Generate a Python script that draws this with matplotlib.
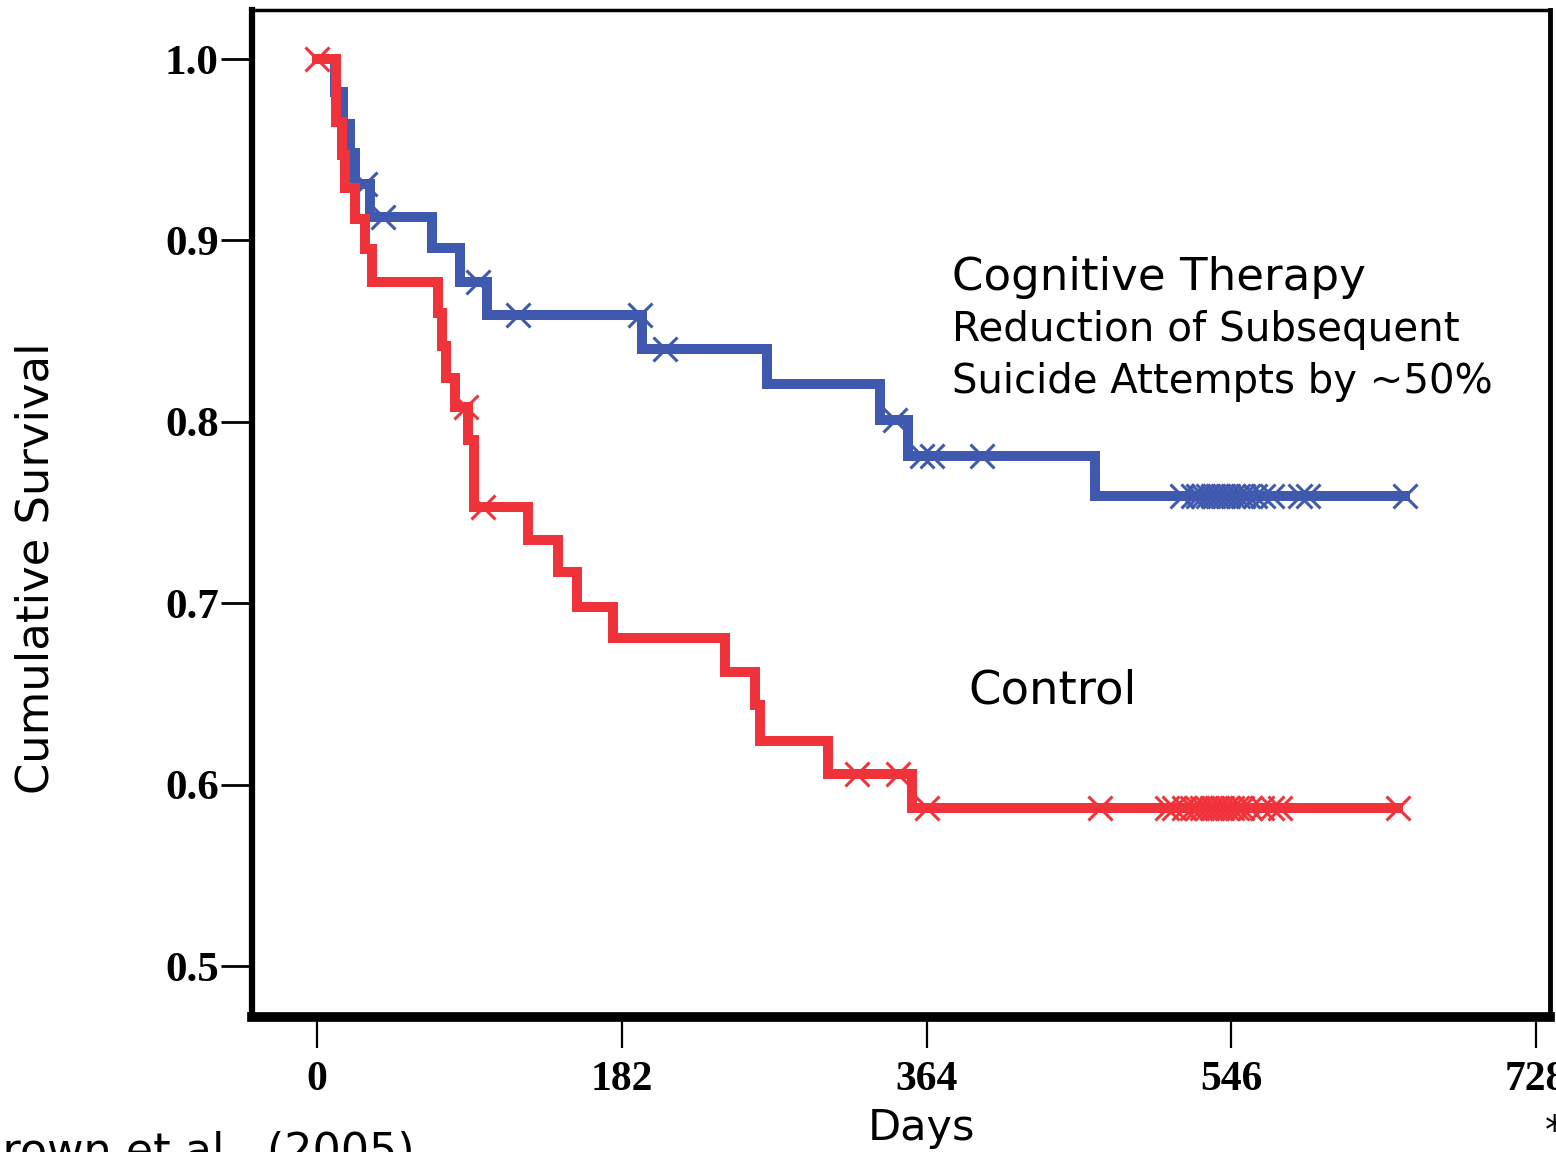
import matplotlib
matplotlib.use("Agg")
import matplotlib.pyplot as plt
from matplotlib.font_manager import FontProperties

# Kaplan-Meier style curves (days, survival after the drop)
ct_event_days = [11, 15.5, 19.7, 22.7, 31.7, 68.7, 85.4, 101.5, 194.1, 268.7, 336.2, 352.9, 464.6]
ct_event_surv = [0.982, 0.964, 0.948, 0.931, 0.913, 0.896, 0.877, 0.859, 0.840, 0.821, 0.801, 0.781, 0.759]
ct_end_day = 649.7

ct_cens_days = [28.7, 39.4, 96.1, 120.0, 192.9, 207.8, 345.2, 361.3, 367.3, 397.1,
                516.6, 523.1, 526, 529, 532, 535, 538, 541, 544, 547, 550, 553, 556,
                560, 565, 570.3, 587, 591.8, 649.7]
ct_cens_surv = [0.931, 0.913, 0.877, 0.859, 0.859, 0.840, 0.801, 0.781, 0.781, 0.781] + [0.759] * 19

ctl_event_days = [11.3, 14.9, 16.7, 22.7, 28.7, 32.8, 72.3, 74.5, 77.0, 82.4, 90.0, 93.8,
                  126.0, 143.9, 155.3, 176.8, 243.7, 261.6, 264.6, 305.2, 355.3]
ctl_event_surv = [0.965, 0.947, 0.929, 0.912, 0.895, 0.877, 0.860, 0.842, 0.824, 0.808, 0.790, 0.753,
                  0.735, 0.717, 0.698, 0.681, 0.662, 0.644, 0.624, 0.606, 0.587]
ctl_end_day = 645.6

ctl_cens_days = [0, 89.0, 99.1, 322.5, 347.0, 364.3,
                 467.6, 507.6, 512, 518, 522.5, 525.5, 528.5, 531.5, 534.5, 537.5, 540.5,
                 543.5, 546.4, 549.4, 552.4, 557, 564.3, 570.3, 575, 645.6]
ctl_cens_surv = [1.0, 0.808, 0.753, 0.606, 0.606, 0.587] + [0.587] * 20

x_ticks = [0, 182, 364, 546, 728]
y_ticks = [0.5, 0.6, 0.7, 0.8, 0.9, 1.0]

blue = "#3e59ad"
red = "#f0323a"


def step_xy(days, surv, end_day):
    xs = [0] + list(days) + [end_day]
    ys = [1.0] + list(surv) + [surv[-1]]
    return xs, ys


fig = plt.figure(figsize=(15.56, 11.52), dpi=100)
ax = fig.add_axes([0.162, 0.1172, 0.8341, 0.8741])

x, y = step_xy(ct_event_days, ct_event_surv, ct_end_day)
ax.step(x, y, where="post", color=blue, lw=7.2, solid_joinstyle="miter", zorder=3)
ax.plot(ct_cens_days, ct_cens_surv, ls="none", marker="x", ms=17, mew=2.2, color=blue, zorder=4)

x, y = step_xy(ctl_event_days, ctl_event_surv, ctl_end_day)
ax.step(x, y, where="post", color=red, lw=7.2, solid_joinstyle="miter", zorder=5)
ax.plot(ctl_cens_days, ctl_cens_surv, ls="none", marker="x", ms=17, mew=2.2, color=red, zorder=6)

ax.set_xlim(-38.8, 736.3)
ax.set_ylim(0.4719, 1.027)
ax.set_xticks(x_ticks)
ax.set_xticklabels([str(t) for t in x_ticks])
ax.set_yticks(y_ticks)
ax.set_yticklabels([f"{t:.1f}" for t in y_ticks])

for lab in ax.get_xticklabels():
    lab.set_fontproperties(FontProperties(family="Liberation Serif", weight="bold", size=30))
for lab in ax.get_yticklabels():
    lab.set_fontproperties(FontProperties(family="Liberation Serif", weight="bold", size=31))

ax.tick_params(axis="x", direction="out", length=22, width=1.6, pad=10)
ax.tick_params(axis="y", direction="out", length=22, width=2, pad=2)

ax.spines["left"].set_linewidth(4.5)
ax.spines["bottom"].set_linewidth(7)
ax.spines["top"].set_linewidth(2.5)
ax.spines["right"].set_linewidth(3.5)

sans = "DejaVu Sans"
fig.text(952 / 1556, 1 - 290 / 1152, "Cognitive Therapy", fontsize=32.5, family=sans, va="baseline")
fig.text(952 / 1556, 1 - 341 / 1152, "Reduction of Subsequent", fontsize=29.2, family=sans, va="baseline")
fig.text(952 / 1556, 1 - 393 / 1152, "Suicide Attempts by ~50%", fontsize=28.9, family=sans, va="baseline")
fig.text(968 / 1556, 1 - 704 / 1152, "Control", fontsize=33.5, family=sans, va="baseline")

fig.text(36 / 1556, 1 - 568 / 1152, "Cumulative Survival", fontsize=32.3, family=sans,
         rotation=90, ha="center", va="center")
fig.text(922 / 1556, 1 - 1128 / 1152, "Days", fontsize=31, family=sans, ha="center", va="center")
fig.text(-28 / 1556, 1 - 1131 / 1152, "Brown et al., (2005)", fontsize=32, family=sans,
         ha="left", va="top")
fig.text(1545 / 1556, 1 - 1113 / 1152, "*", fontsize=28, family=sans, ha="left", va="top")

fig.savefig("out.png", dpi=100)
